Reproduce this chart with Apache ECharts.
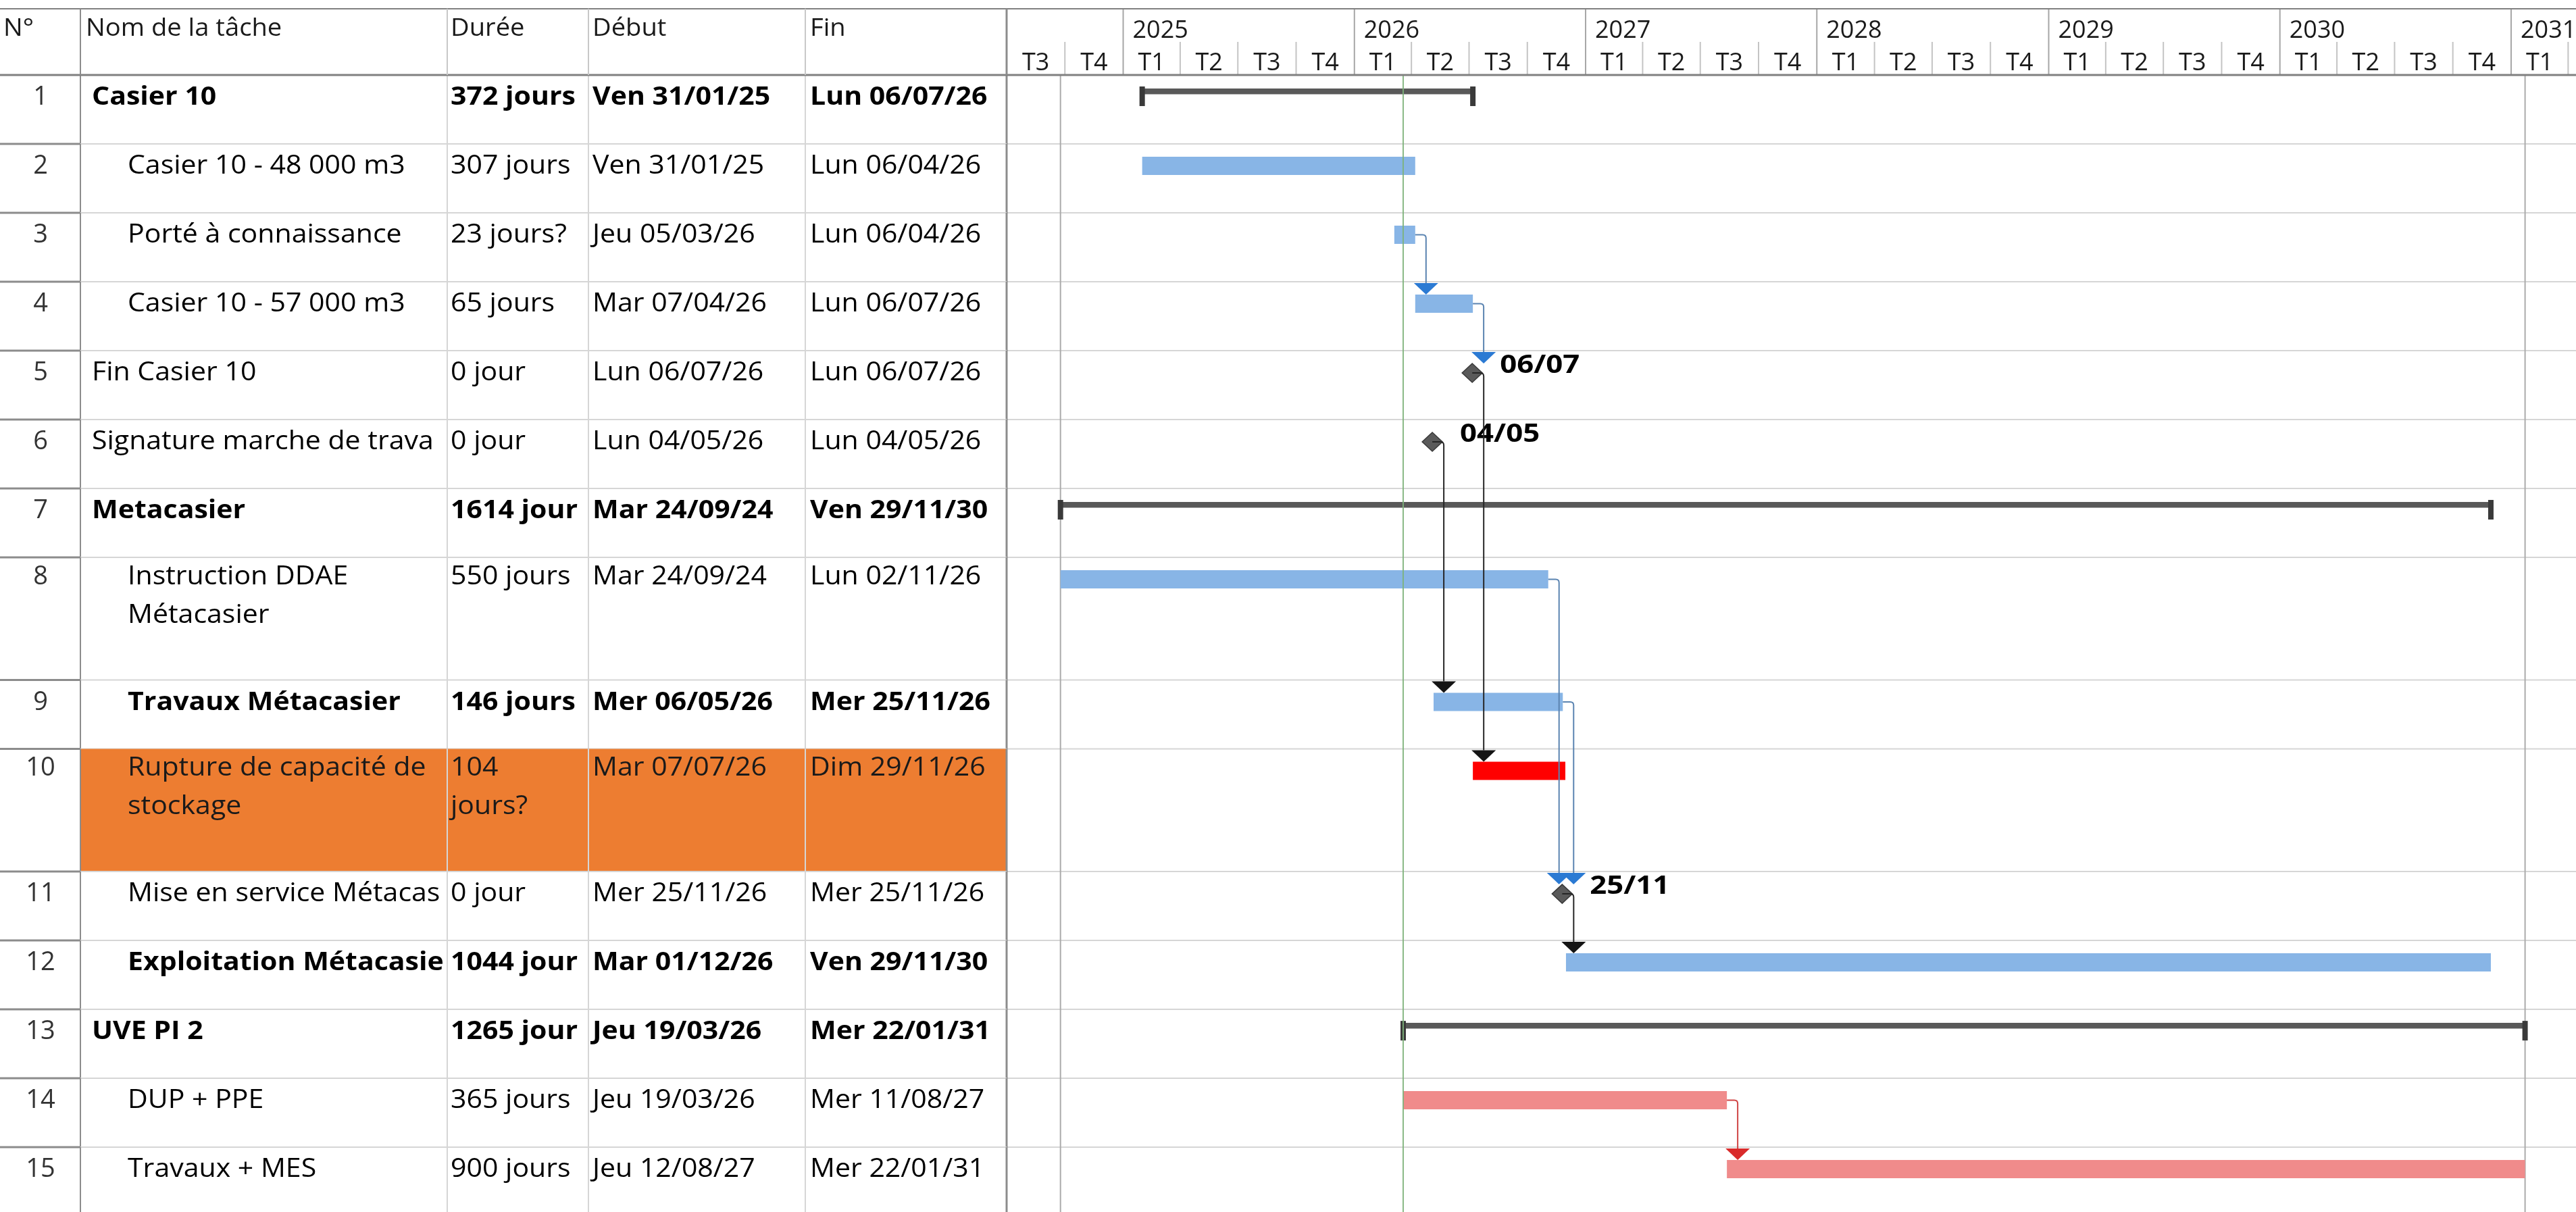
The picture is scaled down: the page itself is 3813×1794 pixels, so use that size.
<!DOCTYPE html>
<html lang="fr">
<head>
<meta charset="utf-8">
<title>Planning Casier 10 / Métacasier / UVE PI 2</title>
<script src="https://cdn.jsdelivr.net/npm/echarts@6/dist/echarts.min.js"></script>
<style>
  html, body { margin: 0; padding: 0; background: #ffffff; }
  #gantt { width: 3813px; height: 1794px; }
</style>
</head>
<body>
<div id="gantt"></div>
<script>
// ---------- Planning data ----------
const taskIds = [1, 2, 3, 4, 5, 6, 7, 8, 9, 10, 11, 12, 13, 14, 15];
const taskNames = [
  'Casier 10',
  'Casier 10 - 48 000 m3',
  'Porté à connaissance',
  'Casier 10 - 57 000 m3',
  'Fin Casier 10',
  'Signature marche de travaux',
  'Metacasier',
  'Instruction DDAE Métacasier',
  'Travaux Métacasier',
  'Rupture de capacité de stockage',
  'Mise en service Métacasier',
  'Exploitation Métacasier',
  'UVE PI 2',
  'DUP + PPE',
  'Travaux + MES'
];
const durations = ['372 jours?', '307 jours', '23 jours?', '65 jours', '0 jour', '0 jour', '1614 jours', '550 jours',
  '146 jours?', '104 jours?', '0 jour', '1044 jours', '1265 jours', '365 jours', '900 jours'];
const startLabels = ['Ven 31/01/25', 'Ven 31/01/25', 'Jeu 05/03/26', 'Mar 07/04/26', 'Lun 06/07/26', 'Lun 04/05/26',
  'Mar 24/09/24', 'Mar 24/09/24', 'Mer 06/05/26', 'Mar 07/07/26', 'Mer 25/11/26', 'Mar 01/12/26',
  'Jeu 19/03/26', 'Jeu 19/03/26', 'Jeu 12/08/27'];
const finishLabels = ['Lun 06/07/26', 'Lun 06/04/26', 'Lun 06/04/26', 'Lun 06/07/26', 'Lun 06/07/26', 'Lun 04/05/26',
  'Ven 29/11/30', 'Lun 02/11/26', 'Mer 25/11/26', 'Dim 29/11/26', 'Mer 25/11/26', 'Ven 29/11/30',
  'Mer 22/01/31', 'Mer 11/08/27', 'Mer 22/01/31'];
const outlineLevels = [1, 2, 2, 2, 1, 1, 1, 2, 2, 2, 2, 2, 1, 2, 2];
const taskKinds = ['summary', 'task', 'task', 'task', 'milestone', 'milestone', 'summary', 'task', 'task', 'task',
  'milestone', 'task', 'summary', 'task', 'task'];
const taskGroups = ['casier', 'casier', 'casier', 'casier', 'casier', 'casier', 'metacasier', 'metacasier',
  'metacasier', 'rupture', 'metacasier', 'metacasier', 'uve', 'uve', 'uve'];
const boldTaskIds = [1, 7, 9, 12, 13];
// predecessor -> successor (fin-début)
const links = [[3, 4], [4, 5], [5, 10], [6, 9], [8, 11], [9, 11], [11, 12], [14, 15]];
const statusDateLabel = '19/03/26';
const tableHeaders = ['N°', 'Nom de la tâche', 'Durée', 'Début', 'Fin'];
const quarterNames = ['T1', 'T2', 'T3', 'T4'];

// ---------- Layout ----------
const W = 3813, H = 1794;
const HEADER_TOP = 13, HEADER_BOTTOM = 111, QUARTER_TOP = 62;
const ROW_PX = 102;
const COL_EDGES = [0, 119, 662, 871, 1192, 1490];
const CELL_PAD = [2, 14, 2, 2];   // right padding for name, duration, start, finish
const TEXT_X = { num: 60, name: 136, indent: 53, dur: 667, start: 877, finish: 1199 };
const HEADER_X = [5, 127, 667, 877, 1199];
const WRAPPED_ROWS = [8, 10];
const WRAPPED_SPAN = 1.78;
const Y_MAX = (H - HEADER_BOTTOM) / ROW_PX;
const VIEW_START = Date.UTC(2024, 6, 1);
const VIEW_END = Date.UTC(2031, 3, 13, 10);
const FONT = '"Open Sans", "Noto Sans", sans-serif';
const CELL_FONT_SIZE = 38;
const STRETCH = 1.08;

const GROUP_STYLE = {
  casier:     { bar: '#88B5E6', link: '#5B84B1', arrow: '#2B7AD3' },
  metacasier: { bar: '#88B5E6', link: '#5B84B1', arrow: '#2B7AD3' },
  rupture:    { bar: '#FF0000', link: '#5B84B1', arrow: '#2B7AD3', rowFill: '#ED7D31' },
  uve:        { bar: '#F08B8B', link: '#CF4444', arrow: '#D92B2B' }
};
const MILESTONE_LINK = { link: '#262626', arrow: '#141414' };
const SUMMARY_STYLE = { bar: '#595959', cap: '#3A3A3A' };
const LIGHT_LINE = '#D6D6D6', DARK_LINE = '#8C8C8C';

// ---------- Derived values ----------
const DAY = 86400000;
function parseDay(label) {
  const m = label.match(/(\d{2})\/(\d{2})\/(\d{2})$/);
  return Date.UTC(2000 + Number(m[3]), Number(m[2]) - 1, Number(m[1]));
}
const starts = startLabels.map(parseDay);
const finishes = finishLabels.map(parseDay);
const statusDate = parseDay(statusDateLabel);
const projectStart = Math.min(...starts);
const projectFinish = Math.max(...finishes) + DAY;

const rowSpan = taskIds.map(id => (WRAPPED_ROWS.includes(id) ? WRAPPED_SPAN : 1));
const rowTop = [];
rowSpan.reduce((acc, s) => { rowTop.push(acc); return acc + s; }, 0);

const quarters = [];
for (let y = 2024; y <= 2031; y++) {
  for (let q = 0; q < 4; q++) {
    const s = Date.UTC(y, q * 3, 1);
    const e = Date.UTC(y, q * 3 + 3, 1);
    if (e <= VIEW_START || s >= VIEW_END) continue;
    quarters.push([s, 0, e, q, y]);
  }
}

// ---------- Cell text fitting (wrap in tall rows, clip at column edge otherwise) ----------
const measureCtx = document.createElement('canvas').getContext('2d');
function textWidth(text, bold) {
  measureCtx.font = `${bold ? 'bold ' : ''}${CELL_FONT_SIZE}px ${FONT}`;
  return measureCtx.measureText(text).width * STRETCH;
}
function fitCell(text, avail, bold, wrap) {
  if (textWidth(text, bold) <= avail) return text;
  if (wrap) {
    const lines = [];
    let cur = '';
    text.split(' ').forEach(word => {
      const candidate = cur ? cur + ' ' + word : word;
      if (cur && textWidth(candidate, bold) > avail) { lines.push(cur); cur = word; }
      else cur = candidate;
    });
    lines.push(cur);
    return lines.join('\n');
  }
  let k = text.length;
  while (k > 0 && textWidth(text.slice(0, k), bold) > avail) k--;
  return text.slice(0, k);
}

// ---------- Drawing helpers ----------
function hLine(x1, x2, y, stroke, lineWidth) {
  return { type: 'line', shape: { x1, y1: y, x2, y2: y }, style: { stroke, lineWidth } };
}
function vLine(x, y1, y2, stroke, lineWidth) {
  return { type: 'line', shape: { x1: x, y1, x2: x, y2 }, style: { stroke, lineWidth } };
}
function cellText(text, x, y, avail, bold, wrapped, color) {
  return {
    type: 'text', x, y, scaleX: STRETCH, scaleY: 1,
    style: {
      text: fitCell(text, avail, bold, wrapped), fill: color, fontFamily: FONT, fontSize: CELL_FONT_SIZE,
      fontWeight: bold ? 'bold' : 'normal', align: 'left', verticalAlign: 'top', lineHeight: 57
    }
  };
}

// Table row: cells, separators and highlighted background
function renderTableRow(params, api) {
  const i = api.value(2);
  const top = api.coord([0, rowTop[i]])[1];
  const bottom = api.coord([0, rowTop[i] + rowSpan[i]])[1];
  const wrapped = rowSpan[i] > 1;
  const bold = boldTaskIds.includes(taskIds[i]);
  const fill = GROUP_STYLE[taskGroups[i]].rowFill;
  const children = [];
  if (fill) {
    children.push({ type: 'rect', shape: { x: COL_EDGES[1], y: top, width: COL_EDGES[5] - COL_EDGES[1], height: bottom - top },
      style: { fill } });
  }
  [COL_EDGES[2], COL_EDGES[3], COL_EDGES[4]].forEach(x => children.push(vLine(x, top, bottom, LIGHT_LINE, 2)));
  children.push(vLine(COL_EDGES[1], top, bottom, DARK_LINE, 2));
  children.push(vLine(COL_EDGES[5], top, bottom, DARK_LINE, 3));
  children.push(hLine(COL_EDGES[0], COL_EDGES[1], bottom, DARK_LINE, 3));
  children.push(hLine(COL_EDGES[1], COL_EDGES[5], bottom, LIGHT_LINE, 2));

  const textY = top + (wrapped ? 0.5 : 5);
  const color = fill ? '#1A1A1A' : '#000000';
  children.push({
    type: 'text', x: TEXT_X.num, y: textY,
    style: { text: String(taskIds[i]), fill: '#333333', fontFamily: FONT, fontSize: CELL_FONT_SIZE,
      align: 'center', verticalAlign: 'top', lineHeight: 57 }
  });
  const nameX = TEXT_X.name + (outlineLevels[i] - 1) * TEXT_X.indent;
  children.push(cellText(taskNames[i], nameX, textY, COL_EDGES[2] - nameX - CELL_PAD[0], bold, wrapped, color));
  children.push(cellText(durations[i], TEXT_X.dur, textY, COL_EDGES[3] - TEXT_X.dur - CELL_PAD[1], bold, wrapped, color));
  children.push(cellText(startLabels[i], TEXT_X.start, textY, COL_EDGES[4] - TEXT_X.start - CELL_PAD[2], bold, false, color));
  children.push(cellText(finishLabels[i], TEXT_X.finish, textY, COL_EDGES[5] - TEXT_X.finish - CELL_PAD[3], bold, false, color));
  return { type: 'group', children };
}

// Row separators across the timeline
function renderRowLine(params, api) {
  const y = api.coord([VIEW_START, api.value(1)])[1];
  const cs = params.coordSys;
  return hLine(cs.x, cs.x + cs.width, y, LIGHT_LINE, 2);
}

// Timeline header: years and quarters
function renderQuarter(params, api) {
  const q = api.value(3), year = api.value(4);
  const x0 = api.coord([api.value(0), 0])[0];
  const x1 = api.coord([api.value(2), 0])[0];
  const children = [
    vLine(x0, q === 0 ? HEADER_TOP : QUARTER_TOP, HEADER_BOTTOM, q === 0 ? '#A6A6A6' : '#C4C4C4', 2),
    { type: 'text', x: (x0 + x1) / 2, y: 94,
      style: { text: quarterNames[q], fill: '#1A1A1A', fontFamily: FONT, fontSize: 36, align: 'center', verticalAlign: 'middle' } }
  ];
  if (q === 0) {
    children.push({ type: 'text', x: x0 + 14, y: 46,
      style: { text: String(year), fill: '#1A1A1A', fontFamily: FONT, fontSize: 36, align: 'left', verticalAlign: 'middle' } });
  }
  return { type: 'group', children };
}

// Full-height date lines (project start/finish, status date)
function makeDateLineRenderer(stroke, lineWidth, opacity) {
  return function (params, api) {
    const x = api.coord([api.value(0), 0])[0];
    const y0 = api.coord([api.value(0), 0])[1];
    const y1 = api.coord([api.value(0), Y_MAX])[1];
    return { type: 'line', shape: { x1: x, y1: y0, x2: x, y2: y1 }, style: { stroke, lineWidth, opacity } };
  };
}

// Task bars, summary brackets and milestones
function renderTask(params, api) {
  const i = api.value(3);
  const [x0, top] = api.coord([api.value(0), api.value(1)]);
  const x1 = api.coord([api.value(2), api.value(1)])[0];
  const kind = taskKinds[i];
  if (kind === 'summary') {
    return { type: 'group', children: [
      { type: 'rect', shape: { x: x0, y: top + 20, width: x1 - x0, height: 8.5 }, style: { fill: SUMMARY_STYLE.bar } },
      { type: 'rect', shape: { x: x0 - 4, y: top + 17, width: 8, height: 29 }, style: { fill: SUMMARY_STYLE.cap } },
      { type: 'rect', shape: { x: x1 - 4, y: top + 17, width: 8, height: 29 }, style: { fill: SUMMARY_STYLE.cap } }
    ] };
  }
  if (kind === 'milestone') {
    const xm = api.coord([finishes[i], api.value(1)])[0];
    const cy = top + 33;
    const dayMonth = finishLabels[i].match(/(\d{2}\/\d{2})\/\d{2}$/)[1];
    return { type: 'group', children: [
      { type: 'polygon', shape: { points: [[xm, cy - 14], [xm + 15, cy], [xm, cy + 14], [xm - 15, cy]] },
        style: { fill: '#5A5A5A', stroke: '#3A3A3A', lineWidth: 1.5 } },
      { type: 'text', x: xm + 41, y: top + 22, scaleX: 1.15, scaleY: 1,
        style: { text: dayMonth, fill: '#000000', fontFamily: FONT, fontSize: 38, fontWeight: 'bold',
          align: 'left', verticalAlign: 'middle' } }
    ] };
  }
  return { type: 'rect', shape: { x: x0, y: top + 19, width: x1 - x0, height: 27 },
    style: { fill: GROUP_STYLE[taskGroups[i]].bar } };
}

// Finish-to-start links with arrowheads
function renderLink(params, api) {
  const k = api.value(2);
  const p = links[k][0] - 1, s = links[k][1] - 1;
  const predTop = api.coord([starts[p], rowTop[p]])[1];
  const succTop = api.coord([starts[s], rowTop[s]])[1];
  const fromMilestone = taskKinds[p] === 'milestone';
  const xs = fromMilestone ? api.coord([finishes[p], rowTop[p]])[0] : api.coord([finishes[p] + DAY, rowTop[p]])[0];
  const ys = predTop + (fromMilestone ? 33 : 32.5);
  const xv = xs + (fromMilestone ? 17 : 16);
  const base = succTop + 2;
  const r = 5;
  const st = fromMilestone ? MILESTONE_LINK : GROUP_STYLE[taskGroups[p]];
  return { type: 'group', children: [
    { type: 'path',
      shape: { pathData: `M${xs} ${ys} L${xv - r} ${ys} Q${xv} ${ys} ${xv} ${ys + r} L${xv} ${base}` },
      style: { fill: 'none', stroke: st.link, lineWidth: 2 } },
    { type: 'polygon', shape: { points: [[xv - 18, base], [xv + 18, base], [xv, base + 17]] },
      style: { fill: st.arrow } }
  ] };
}

// ---------- Static table header ----------
const headerElements = [
  hLine(0, W, HEADER_TOP, '#808080', 2),
  hLine(0, W, HEADER_BOTTOM, '#808080', 3),
  vLine(COL_EDGES[1], HEADER_TOP, HEADER_BOTTOM, DARK_LINE, 2),
  vLine(COL_EDGES[2], HEADER_TOP, HEADER_BOTTOM, '#C8C8C8', 2),
  vLine(COL_EDGES[3], HEADER_TOP, HEADER_BOTTOM, '#C8C8C8', 2),
  vLine(COL_EDGES[4], HEADER_TOP, HEADER_BOTTOM, '#C8C8C8', 2),
  vLine(COL_EDGES[5], HEADER_TOP, HEADER_BOTTOM, DARK_LINE, 3)
].map(el => Object.assign(el, { z: 20 }));
tableHeaders.forEach((label, c) => {
  headerElements.push({
    type: 'text', x: HEADER_X[c], y: 43, scaleX: 1.06, scaleY: 1, z: 20,
    style: { text: label, fill: '#1A1A1A', fontFamily: FONT, fontSize: 36, align: 'left', verticalAlign: 'middle' }
  });
});

// ---------- Chart ----------
const chart = echarts.init(document.getElementById('gantt'), null, { renderer: 'canvas' });
const yAxisBase = { type: 'value', min: 0, max: Y_MAX, inverse: true, show: false, splitLine: { show: false } };
chart.setOption({
  animation: false,
  backgroundColor: '#ffffff',
  grid: [
    { left: COL_EDGES[0], top: HEADER_BOTTOM, width: COL_EDGES[5], bottom: 0, outerBoundsMode: 'none', containLabel: false },
    { left: COL_EDGES[5], top: HEADER_BOTTOM, right: 0, bottom: 0, outerBoundsMode: 'none', containLabel: false }
  ],
  xAxis: [
    { type: 'value', gridIndex: 0, min: 0, max: COL_EDGES[5], show: false, splitLine: { show: false } },
    { type: 'time', gridIndex: 1, min: VIEW_START, max: VIEW_END, show: false, splitLine: { show: false } }
  ],
  yAxis: [Object.assign({ gridIndex: 0 }, yAxisBase), Object.assign({ gridIndex: 1 }, yAxisBase)],
  graphic: { elements: headerElements },
  series: [
    {
      type: 'custom', name: 'tableau', xAxisIndex: 0, yAxisIndex: 0, clip: false, silent: true, z: 2,
      renderItem: renderTableRow,
      data: taskIds.map((id, i) => [0, rowTop[i], i])
    },
    {
      type: 'custom', name: 'lignes', xAxisIndex: 1, yAxisIndex: 1, clip: false, silent: true, z: 1,
      renderItem: renderRowLine,
      data: taskIds.map((id, i) => [VIEW_START, rowTop[i] + rowSpan[i], i])
    },
    {
      type: 'custom', name: 'échelle', xAxisIndex: 1, yAxisIndex: 1, clip: false, silent: true, z: 3,
      renderItem: renderQuarter,
      data: quarters
    },
    {
      type: 'custom', name: 'début / fin projet', xAxisIndex: 1, yAxisIndex: 1, clip: false, silent: true, z: 2,
      renderItem: makeDateLineRenderer('#ABABAB', 2, 1),
      data: [[projectStart, 0], [projectFinish, 0]]
    },
    {
      type: 'custom', name: 'tâches', xAxisIndex: 1, yAxisIndex: 1, clip: false, silent: true, z: 4,
      renderItem: renderTask,
      data: taskIds.map((id, i) => [starts[i], rowTop[i], finishes[i] + DAY, i])
    },
    {
      type: 'custom', name: 'date d\'état', xAxisIndex: 1, yAxisIndex: 1, clip: false, silent: true, z: 5,
      renderItem: makeDateLineRenderer('#7DB37A', 2, 0.9),
      data: [[statusDate, 0]]
    },
    {
      type: 'custom', name: 'liaisons', xAxisIndex: 1, yAxisIndex: 1, clip: false, silent: true, z: 6,
      renderItem: renderLink,
      data: links.map((l, k) => [finishes[l[0] - 1], rowTop[l[0] - 1], k])
    }
  ]
});
</script>
</body>
</html>
